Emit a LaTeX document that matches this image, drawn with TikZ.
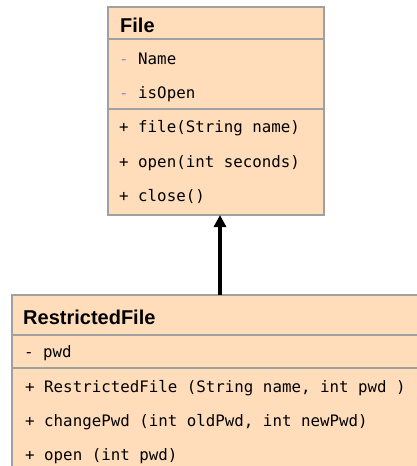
\documentclass[tikz,border=0pt]{standalone}
\usepackage{fontspec}
\usepackage{xcolor}
\usepackage{tikz}
\usetikzlibrary{arrows.meta,positioning}

\newfontfamily\headfont{Liberation Sans}
\newfontfamily\rowfont{DejaVu Sans Mono}
\definecolor{classfill}{RGB}{255,221,187}
\definecolor{classline}{RGB}{160,160,160}
\definecolor{privmark}{RGB}{140,140,210}

\begin{document}
\begin{tikzpicture}[x=1pt,y=1pt,>=Latex,
  classpart/.style={draw=classline,line width=1.5pt,fill=classfill,rectangle,outer sep=0pt,inner sep=0pt},
  headtext/.style={anchor=base west,inner sep=0pt,font=\headfont\bfseries\fontsize{20}{24}\selectfont},
  rowtext/.style={anchor=base west,inner sep=0pt,font=\rowfont\fontsize{15.8}{19}\selectfont}]
\path[use as bounding box,clip] (0,0) rectangle (417,-466);
% File class
\node[classpart,anchor=north west,minimum width=216pt,minimum height=32pt] (filehead) at (108,-7) {};
\node[classpart,below=0pt of filehead,minimum width=216pt,minimum height=70pt] (fileattr) {};
\node[classpart,below=0pt of fileattr,minimum width=216pt,minimum height=106pt] (fileops) {};
\node[headtext] (filename) at (120,-32) {File};
\node[rowtext] (fname) at (119,-64) {{\color{privmark}-} Name};
\node[rowtext] (fopen) at (119,-98) {{\color{privmark}-} isOpen};
\node[rowtext] (fctor) at (119,-132) {+ file(String name)};
\node[rowtext] (fopenop) at (119,-167) {+ open(int seconds)};
\node[rowtext] (fclose) at (119,-201) {+ close()};
% RestrictedFile class
\node[classpart,anchor=north west,minimum width=440pt,minimum height=40pt] (rfilehead) at (12,-295) {};
\node[classpart,below=0pt of rfilehead,minimum width=440pt,minimum height=33pt] (rfileattr) {};
\node[classpart,below=0pt of rfileattr,minimum width=440pt,minimum height=107pt] (rfileops) {};
\node[headtext] (rfilename) at (23,-324) {RestrictedFile};
\node[rowtext] (rpwd) at (24,-357) {- pwd};
\node[rowtext] (rctor) at (25,-392) {+ RestrictedFile (String name, int pwd )};
\node[rowtext] (rchange) at (25,-426) {+ changePwd (int oldPwd, int newPwd)};
\node[rowtext] (ropen) at (25,-460) {+ open (int pwd)};
% inheritance
\coordinate (tip) at ([xshift=4pt]fileops.south);
\draw[line width=4pt,-{Triangle[width=12pt,length=12pt]}] (tip |- rfilehead.north) -- (tip);
\end{tikzpicture}
\end{document}
